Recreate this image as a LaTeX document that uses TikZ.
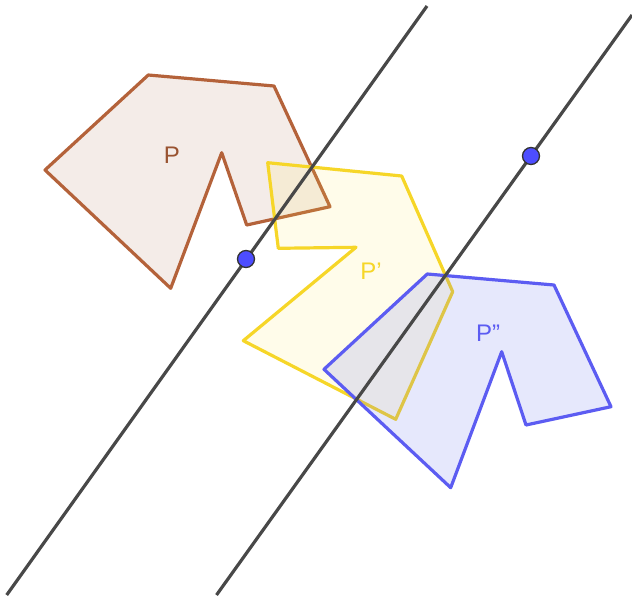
\documentclass[tikz,border=0pt]{standalone}
\usepackage{fontspec}
\setmainfont{Liberation Sans}
\definecolor{brownE}{RGB}{180,98,58}
\definecolor{brownF}{RGB}{150,70,30}
\definecolor{yelE}{RGB}{246,214,40}
\definecolor{yelF}{RGB}{255,230,80}
\definecolor{bluE}{RGB}{92,92,242}
\definecolor{bluF}{RGB}{100,110,235}
\definecolor{lineC}{RGB}{72,72,72}
\definecolor{ptC}{RGB}{77,77,255}
\tikzset{
  poly/.style={line width=3.2pt, line join=round},
  mirror/.style={draw=lineC, line width=3.2pt},
  pt/.style={circle, fill=ptC, draw=black!80, line width=1.3pt, minimum size=17pt, inner sep=0pt},
  lbl/.style={font=\fontsize{24}{24}\selectfont, inner sep=1pt}
}
\begin{document}
\begin{tikzpicture}[x=1pt,y=-1pt]
\useasboundingbox (0,0) rectangle (632,595);
% P
\draw[poly, draw=brownE, fill=brownF, fill opacity=0.1]
  (148.3,75) -- (274,86) -- (330,206.7) -- (246.7,225) -- (221.7,152.7) -- (170.7,288.3) -- (45,170) -- cycle;
% P'
\draw[poly, draw=yelE, fill=yelF, fill opacity=0.12]
  (267.7,162.7) -- (401.7,176) -- (452.7,291.7) -- (395.7,419.3) -- (243.3,340.7) -- (356,247.3) -- (278.3,248.3) -- cycle;
% P''
\draw[poly, draw=bluE, fill=bluF, fill opacity=0.16]
  (427.3,274) -- (554,285) -- (611,406.7) -- (526,425) -- (501.7,351.7) -- (450.7,487.7) -- (324,369.3) -- cycle;
% lines
\coordinate (a1) at (6.7,595);
\coordinate (a2) at (427,6);
\coordinate (b1) at (216.5,595);
\coordinate (b2) at (632,15);
\draw[mirror] (a1) -- (a2);
\draw[mirror] (b1) -- (b2);
\node[pt] (A) at (246,259) {};
\node[pt] (B) at (531,156) {};
% labels
\node[lbl, text=brownE!85!black] (lP) at (172,155) {P};
\node[lbl, text=yelE] (lP1) at (371,271) {P\char39};
\node[lbl, text=bluE] (lP2) at (488,333) {P\char39\char39};
\end{tikzpicture}
\end{document}
